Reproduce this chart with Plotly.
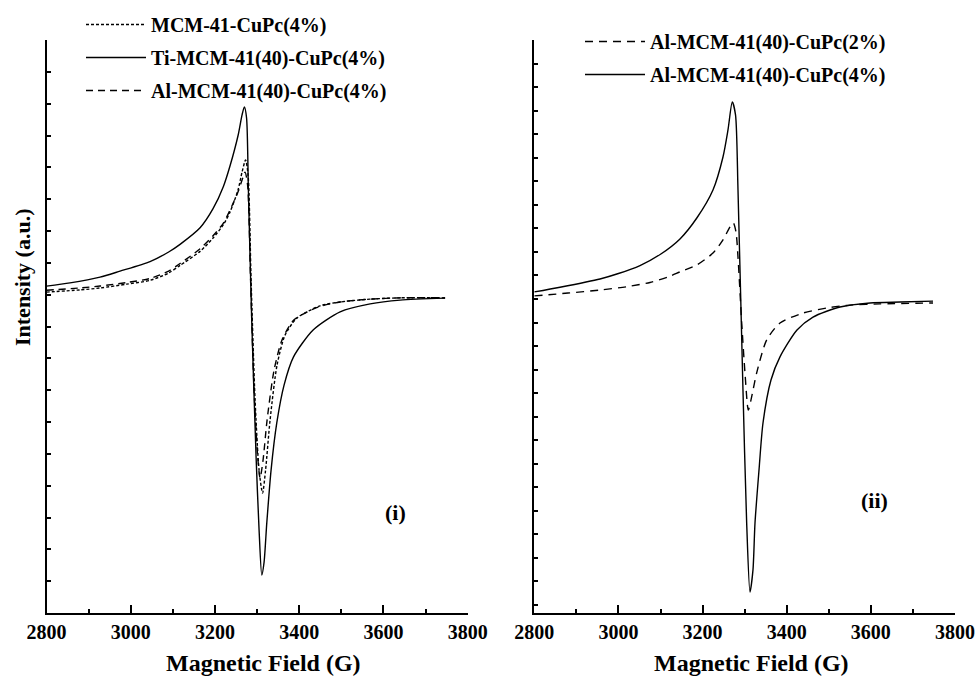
import plotly.graph_objects as go

# ---------------- data ----------------
# Panel (i)
field_mcm = [2800, 2880, 2927.1, 2990, 3045.8, 3090, 3117.1, 3164.6, 3195.4, 3220, 3235.8, 3254.8, 3264.3,
             3272.6, 3278.6, 3285.7, 3295.2, 3304.7, 3313.0, 3320.1, 3330.8, 3347.4, 3366.4, 3394.9,
             3449.6, 3497.1, 3568.4, 3639.6, 3746.4]
int_mcm = [10.08, 10.15, 10.21, 10.33, 10.45, 10.68, 10.92, 11.36, 11.78, 12.20, 12.60, 13.29, 13.85,
           14.23, 13.76, 10.46, 6.69, 4.49, 3.77, 4.49, 6.06, 7.79, 8.73, 9.27,
           9.65, 9.77, 9.86, 9.90, 9.90]

field_ti = [2800, 2855.8, 2927.1, 2974.6, 3045.8, 3090, 3117.1, 3164.6, 3195.4, 3220, 3235.8, 3254.8,
            3264.3, 3269.8, 3275.0, 3279.3, 3287.4, 3297.6, 3304.7, 3311.1, 3316.6, 3323.0, 3333.2,
            3346.7, 3364.0, 3386.2, 3433.0, 3497.1, 3568.4, 3639.6, 3746.4]
int_ti = [10.27, 10.37, 10.55, 10.74, 11.04, 11.34, 11.58, 12.10, 12.70, 13.40, 14.05, 15.00,
          15.65, 15.90, 15.55, 13.29, 9.11, 4.90, 2.61, 1.19, 1.60, 2.83, 4.49,
          5.97, 7.16, 8.04, 8.89, 9.46, 9.71, 9.83, 9.89]

field_al4i = [2800, 2880, 2927.1, 2990, 3045.8, 3090, 3117.1, 3164.6, 3195.4, 3220, 3235.8, 3254.8,
              3264.3, 3271.4, 3277.4, 3284.5, 3292.8, 3301.1, 3307.1, 3314.2, 3323.7, 3340.3, 3359.3,
              3387.8, 3444.8, 3497.1, 3568.4, 3639.6, 3746.4]
int_al4i = [10.14, 10.21, 10.27, 10.38, 10.51, 10.74, 10.98, 11.44, 11.85, 12.25, 12.66, 13.23,
            13.60, 13.85, 13.45, 10.46, 7.01, 4.96, 4.24, 4.81, 6.06, 7.63, 8.58,
            9.21, 9.61, 9.77, 9.86, 9.90, 9.90]

# Panel (ii)
field_al2 = [2800, 2880, 2956.2, 3020, 3075.0, 3120, 3146.3, 3186.7, 3224.7, 3248.5, 3265.2, 3273.0,
             3279.4, 3284.2, 3293.0, 3300.8, 3308.7, 3315.1, 3328.6, 3352.4, 3384.0, 3438.7, 3495.7,
             3550.4, 3621.7, 3747.7]
int_al2 = [13.13, 13.25, 13.38, 13.52, 13.70, 13.95, 14.15, 14.45, 14.95, 15.51, 16.06, 16.23,
           15.85, 14.78, 11.98, 9.86, 8.28, 8.71, 9.86, 11.26, 11.98, 12.40, 12.62,
           12.74, 12.79, 12.83]

field_al4 = [2800, 2861.1, 2956.2, 3000, 3051.2, 3100, 3146.3, 3186.7, 3224.7, 3248.5, 3260.4, 3270.6,
             3278.3, 3284.2, 3296.0, 3304.8, 3312.7, 3319.8, 3324.6, 3334.1, 3343.6, 3362.6, 3384.0,
             3424.4, 3462.5, 3526.6, 3598.0, 3669.3, 3747.7]
int_al4 = [13.30, 13.50, 13.85, 14.08, 14.42, 14.90, 15.55, 16.45, 17.63, 19.03, 20.18, 21.37,
           20.82, 17.63, 9.13, 3.48, 0.55, 1.49, 3.48, 5.73, 7.73, 9.56, 10.54,
           11.68, 12.23, 12.66, 12.83, 12.87, 12.91]

x_ticks = [2800, 3000, 3200, 3400, 3600, 3800]

# ---------------- figure ----------------
FONT = "Liberation Serif"
W, H = 976, 676

fig = go.Figure()

def add(x, y, name, dash, xa, ya, leg, group):
    fig.add_trace(go.Scatter(
        x=x, y=y, mode="lines", name=name, xaxis=xa, yaxis=ya, legend=leg,
        legendgroup=group,
        line=dict(color="black", width=1.4, dash=dash, shape="spline", smoothing=0.7),
    ))

add(field_mcm, int_mcm, "MCM-41-CuPc(4%)", "3px,2px", "x", "y", "legend", "a")
add(field_ti, int_ti, "Ti-MCM-41(40)-CuPc(4%)", "solid", "x", "y", "legend", "b")
add(field_al4i, int_al4i, "Al-MCM-41(40)-CuPc(4%)", "7px,5px", "x", "y", "legend", "c")
add(field_al2, int_al2, "Al-MCM-41(40)-CuPc(2%)", "8px,6px", "x2", "y2", "legend2", "d")
add(field_al4, int_al4, "Al-MCM-41(40)-CuPc(4%)", "solid", "x2", "y2", "legend2", "e")

tickfont = dict(family=FONT, size=20, color="black", weight="bold")

xcommon = dict(range=[2800, 3800], tickvals=x_ticks, ticks="inside", ticklen=8, tickwidth=2,
               tickcolor="black", showline=True, linecolor="black", linewidth=2,
               showgrid=False, zeroline=False, tickfont=tickfont, automargin=False,
               minor=dict(dtick=100, tick0=2800, ticks="inside", ticklen=4, tickwidth=2,
                          tickcolor="black", showgrid=False))

ydom = [(H - 613) / H, (H - 40) / H]
ycommon = dict(domain=ydom, dtick=1, tick0=0, ticks="inside", ticklen=4,
               tickwidth=1.5, tickcolor="black", showticklabels=False, showline=True,
               linecolor="black", linewidth=2, showgrid=False, zeroline=False, automargin=False)

fig.update_layout(
    width=W, height=H, margin=dict(l=0, r=0, t=0, b=0, autoexpand=False),
    paper_bgcolor="white", plot_bgcolor="white",
    xaxis=dict(xcommon, domain=[46.5 / W, 467.7 / W], anchor="y"),
    xaxis2=dict(xcommon, domain=[534.3 / W, 955 / W], anchor="y2"),
    yaxis=dict(ycommon, range=[0, 18], anchor="x"),
    yaxis2=dict(ycommon, range=[-0.34, 24], anchor="x2"),
    legend=dict(x=81 / W, y=1 - 5 / H, xanchor="left", yanchor="top", bgcolor="rgba(0,0,0,0)",
                font=dict(family=FONT, size=20, color="black", weight="bold"),
                tracegroupgap=4, itemwidth=60, traceorder="grouped"),
    legend2=dict(x=580 / W, y=1 - 22 / H, xanchor="left", yanchor="top", bgcolor="rgba(0,0,0,0)",
                 font=dict(family=FONT, size=20, color="black", weight="bold"),
                 tracegroupgap=4, itemwidth=60, traceorder="grouped"),
)

ann_font = dict(family=FONT, size=24, color="black", weight="bold")
fig.add_annotation(text="Magnetic Field (G)", x=263 / W, y=(H - 663) / H, xref="paper", yref="paper",
                   showarrow=False, font=ann_font, xanchor="center", yanchor="middle")
fig.add_annotation(text="Magnetic Field (G)", x=751 / W, y=(H - 663) / H, xref="paper", yref="paper",
                   showarrow=False, font=ann_font, xanchor="center", yanchor="middle")
fig.add_annotation(text="Intensity (a.u.)", x=22 / W, y=(H - 277) / H, xref="paper", yref="paper",
                   showarrow=False, font=dict(family=FONT, size=22, color="black", weight="bold"),
                   textangle=-90, xanchor="center", yanchor="middle")
fig.add_annotation(text="(i)", x=395 / W, y=(H - 512) / H, xref="paper", yref="paper",
                   showarrow=False, font=dict(family=FONT, size=22, color="black", weight="bold"),
                   xanchor="center", yanchor="middle")
fig.add_annotation(text="(ii)", x=874 / W, y=(H - 500) / H, xref="paper", yref="paper",
                   showarrow=False, font=dict(family=FONT, size=22, color="black", weight="bold"),
                   xanchor="center", yanchor="middle")

fig.write_html("out.html")
